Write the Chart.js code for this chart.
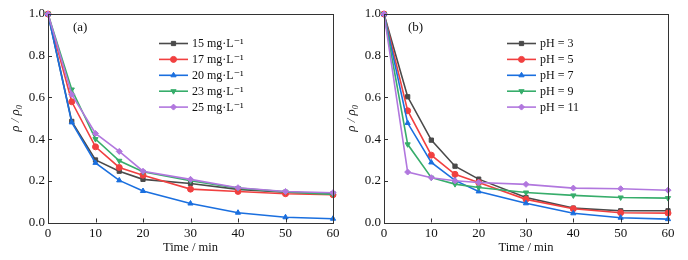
<!DOCTYPE html>
<html>
<head>
<meta charset="utf-8">
<script src="https://cdn.jsdelivr.net/npm/chart.js@4.4.0/dist/chart.umd.min.js"></script>
<style>
  html, body { margin: 0; padding: 0; background: #fff; }
  #wrap { position: relative; width: 688px; height: 260px; overflow: hidden; }
  canvas { position: absolute; top: 0; }
</style>
</head>
<body>
<div id="wrap">
  <canvas id="ca" width="344" height="260" style="left:0"></canvas>
  <canvas id="cb" width="344" height="260" style="left:344px"></canvas>
</div>
<script>
// ---- data ----
const times = [0, 5, 10, 15, 20, 30, 40, 50, 60];
const xTicks = [0, 10, 20, 30, 40, 50, 60];
const yTicks = [0.0, 0.2, 0.4, 0.6, 0.8, 1.0];

const concLabels = ['15 mg·L⁻¹', '17 mg·L⁻¹', '20 mg·L⁻¹', '23 mg·L⁻¹', '25 mg·L⁻¹'];
const conc15 = [1.0, 0.485, 0.300, 0.246, 0.207, 0.187, 0.159, 0.145, 0.138];
const conc17 = [1.0, 0.579, 0.363, 0.264, 0.227, 0.160, 0.149, 0.138, 0.133];
const conc20 = [1.0, 0.480, 0.286, 0.202, 0.151, 0.091, 0.047, 0.025, 0.018];
const conc23 = [1.0, 0.638, 0.400, 0.296, 0.243, 0.200, 0.165, 0.147, 0.135];
const conc25 = [1.0, 0.614, 0.427, 0.341, 0.246, 0.207, 0.167, 0.149, 0.143];

const phLabels = ['pH = 3', 'pH = 5', 'pH = 7', 'pH = 9', 'pH = 11'];
const ph3  = [1.0, 0.603, 0.395, 0.270, 0.208, 0.120, 0.069, 0.056, 0.056];
const ph5  = [1.0, 0.536, 0.323, 0.231, 0.192, 0.111, 0.066, 0.047, 0.045];
const ph7  = [1.0, 0.477, 0.288, 0.202, 0.149, 0.092, 0.044, 0.023, 0.016];
const ph9  = [1.0, 0.375, 0.215, 0.184, 0.168, 0.144, 0.130, 0.120, 0.117];
const ph11 = [1.0, 0.242, 0.215, 0.200, 0.192, 0.183, 0.165, 0.162, 0.155];

// ---- styles ----
const colors = ['#4a4a4a', '#F14040', '#1A6FDF', '#37AD6B', '#B177DE'];
const styles = [
  { pointStyle: 'rect', rotation: 0 },
  { pointStyle: 'circle', rotation: 0 },
  { pointStyle: 'triangle', rotation: 0 },
  { pointStyle: 'triangle', rotation: 180 },
  { pointStyle: 'rectRot', rotation: 0 }
];
const FONT = '"Liberation Serif", "Times New Roman", "DejaVu Serif", serif';
const AXIS = '#333';

function makeDatasets(labels, series) {
  return series.map((vals, i) => ({
    label: labels[i],
    data: times.map((t, k) => ({ x: t, y: vals[k] })),
    borderColor: colors[i],
    backgroundColor: colors[i],
    borderWidth: 1.6,
    pointStyle: styles[i].pointStyle,
    rotation: styles[i].rotation,
    pointRadius: 3,
    pointBorderWidth: 1,
    tension: 0,
    order: 5 - i,
    clip: false
  }));
}

const decor = {
  id: 'decor',
  afterDraw(chart, args, o) {
    const ctx = chart.ctx;
    const a = chart.chartArea;
    const xs = chart.scales.x, ys = chart.scales.y;
    ctx.save();
    // frame
    ctx.strokeStyle = AXIS;
    ctx.lineWidth = 1;
    ctx.strokeRect(Math.round(a.left) + 0.5, Math.round(a.top) + 0.5,
                   Math.round(a.right - a.left), Math.round(a.bottom - a.top));
    // inward ticks
    ctx.beginPath();
    xTicks.forEach(v => {
      const px = Math.round(xs.getPixelForValue(v)) + 0.5;
      ctx.moveTo(px, a.bottom); ctx.lineTo(px, a.bottom - 4);
    });
    yTicks.forEach(v => {
      const py = Math.round(ys.getPixelForValue(v)) + 0.5;
      ctx.moveTo(a.left, py); ctx.lineTo(a.left + 4, py);
    });
    ctx.stroke();

    ctx.fillStyle = '#111';
    // panel tag
    ctx.font = '13px ' + FONT;
    ctx.textAlign = 'left';
    ctx.textBaseline = 'middle';
    ctx.fillText(o.tag, a.left + o.tagDx, a.top + 14);

    // x title
    ctx.textAlign = 'center';
    ctx.font = '12.5px ' + FONT;
    ctx.fillText('Time / min', (a.left + a.right) / 2, 248);

    // y title (rotated)
    ctx.save();
    ctx.translate(o.yTitleX, (a.top + a.bottom) / 2);
    ctx.rotate(-Math.PI / 2);
    ctx.font = 'italic 13px ' + FONT;
    ctx.textAlign = 'center';
    ctx.fillText('ρ / ρ₀', 0, 0);
    ctx.restore();

    // legend
    chart.data.datasets.forEach((ds, i) => {
      const y = o.legY + i * 15.9;
      ctx.strokeStyle = ds.borderColor;
      ctx.lineWidth = 1.6;
      ctx.beginPath();
      ctx.moveTo(o.legX, y); ctx.lineTo(o.legX + 29, y);
      ctx.stroke();
      ctx.fillStyle = ds.backgroundColor;
      ctx.lineWidth = 1;
      Chart.helpers.drawPoint(ctx, { pointStyle: ds.pointStyle, rotation: ds.rotation, radius: 3, borderWidth: 1 }, o.legX + 14.5, y);
      ctx.fillStyle = '#111';
      ctx.font = '12px ' + FONT;
      ctx.textAlign = 'left';
      ctx.fillText(ds.label, o.legX + 33, y + 0.5);
    });
    ctx.restore();
  }
};

function makeChart(id, labels, series, opts) {
  return new Chart(document.getElementById(id), {
    type: 'line',
    data: { datasets: makeDatasets(labels, series) },
    options: {
      responsive: false,
      animation: false,
      devicePixelRatio: 1,
      layout: { padding: { left: 0, right: opts.padRight, top: 14, bottom: 0 } },
      plugins: { legend: { display: false }, tooltip: { enabled: false }, decor: opts.decor },
      scales: {
        x: {
          type: 'linear', min: 0, max: 60,
          afterBuildTicks: s => { s.ticks = xTicks.map(v => ({ value: v })); },
          afterFit: s => { s.height = 37.5; },
          grid: { display: false, drawTicks: false },
          border: { display: false },
          ticks: { color: '#111', font: { family: FONT, size: 13 }, padding: 3, maxRotation: 0,
                   callback: v => String(v) }
        },
        y: {
          type: 'linear', min: 0, max: 1,
          afterBuildTicks: s => { s.ticks = yTicks.map(v => ({ value: v })); },
          afterFit: s => { s.width = opts.yWidth; },
          grid: { display: false, drawTicks: false },
          border: { display: false },
          ticks: { color: '#111', font: { family: FONT, size: 13 }, padding: 3,
                   callback: v => Number(v).toFixed(1) }
        }
      }
    },
    plugins: [decor]
  });
}

makeChart('ca', concLabels, [conc15, conc17, conc20, conc23, conc25], {
  padRight: 11, yWidth: 48,
  decor: { tag: '(a)', tagDx: 25, yTitleX: 16, legX: 159, legY: 43.5 }
});
makeChart('cb', phLabels, [ph3, ph5, ph7, ph9, ph11], {
  padRight: 20, yWidth: 40,
  decor: { tag: '(b)', tagDx: 24, yTitleX: 8, legX: 163, legY: 43.5 }
});
</script>
</body>
</html>
